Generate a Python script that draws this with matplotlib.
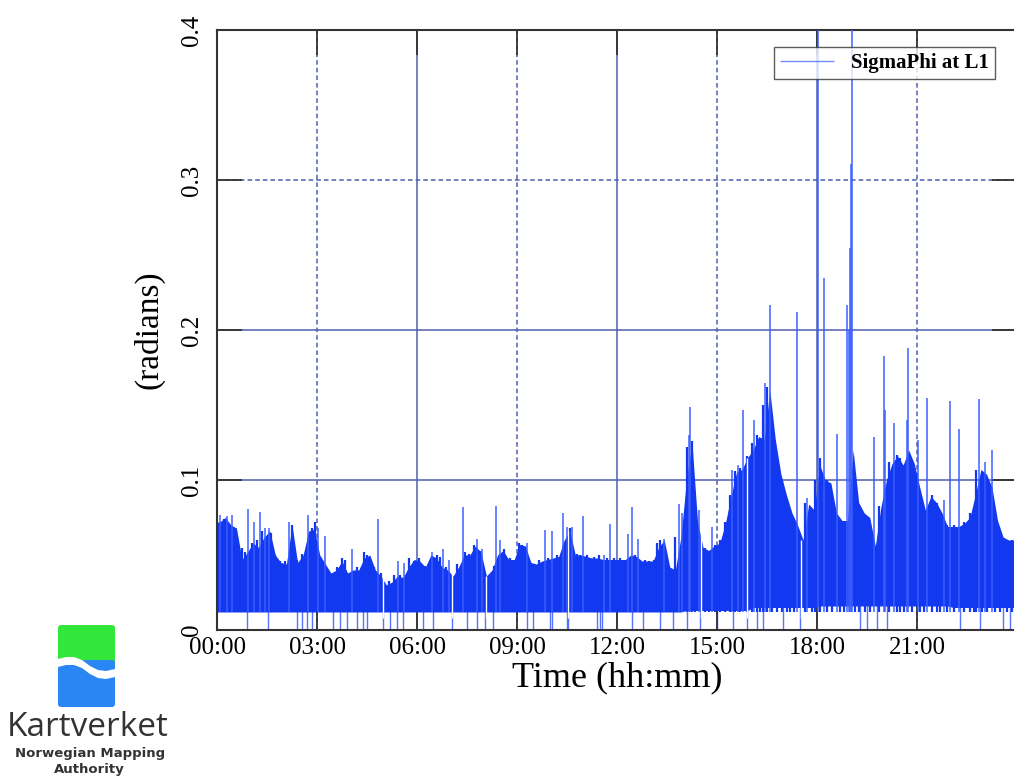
import numpy as np
import matplotlib.pyplot as plt
from matplotlib.patches import FancyBboxPatch, Polygon

# Data: SigmaPhi at L1 (radians) over one day ###################################
# dense part of the record, upper envelope in 10 minute bins (hour by hour)
dense_top = [
    0.072, 0.075, 0.070, 0.068, 0.047, 0.052,   # 00
    0.058, 0.055, 0.062, 0.066, 0.050, 0.045,   # 01
    0.044, 0.070, 0.045, 0.050, 0.066, 0.067,   # 02
    0.050, 0.044, 0.038, 0.040, 0.046, 0.038,   # 03
    0.040, 0.040, 0.048, 0.050, 0.040, 0.036,   # 04
    0.030, 0.032, 0.036, 0.035, 0.042, 0.047,   # 05
    0.046, 0.042, 0.050, 0.048, 0.042, 0.040,   # 06
    0.036, 0.042, 0.050, 0.050, 0.056, 0.052,   # 07
    0.036, 0.040, 0.050, 0.053, 0.047, 0.047,   # 08
    0.057, 0.056, 0.045, 0.044, 0.046, 0.047,   # 09
    0.048, 0.049, 0.060, 0.066, 0.050, 0.050,   # 10
    0.049, 0.048, 0.048, 0.047, 0.047, 0.047,   # 11
    0.047, 0.047, 0.050, 0.049, 0.046, 0.046,   # 12
    0.046, 0.055, 0.060, 0.042, 0.040, 0.062,   # 13
    0.100, 0.125, 0.072, 0.055, 0.053, 0.056,   # 14
    0.058, 0.071, 0.089, 0.105, 0.107, 0.115,   # 15
    0.120, 0.129, 0.127, 0.160, 0.127, 0.104,   # 16
    0.090, 0.078, 0.070, 0.060, 0.084, 0.080,   # 17
    0.110, 0.100, 0.098, 0.078, 0.073, 0.073,   # 18
    0.120, 0.085, 0.078, 0.075, 0.056, 0.082,   # 19
    0.100, 0.111, 0.116, 0.110, 0.120, 0.111,   # 20
    0.095, 0.080, 0.089, 0.085, 0.078, 0.069,   # 21
    0.069, 0.069, 0.071, 0.075, 0.090, 0.107,   # 22
    0.104, 0.095, 0.073, 0.062, 0.060, 0.060,   # 23
]
# noise floor, one value per hour
floor = [0.012, 0.012, 0.012, 0.012, 0.012, 0.012, 0.012, 0.012,
         0.012, 0.012, 0.012, 0.012, 0.012, 0.012, 0.013, 0.013,
         0.015, 0.015, 0.016, 0.016, 0.016, 0.016, 0.015, 0.015]

# isolated peaks (hours, radians)
spike_t = [0.10, 0.30, 0.45, 0.93, 1.10, 1.29, 1.45, 1.55, 2.15, 2.73,
           3.02, 3.25, 4.05, 4.84, 5.43, 5.60, 6.45, 6.78, 6.95, 7.38,
           7.80, 7.95, 8.37, 8.50, 9.30, 9.83, 10.05, 10.38, 10.50, 10.65,
           10.98, 11.60, 11.80, 12.33, 12.45, 12.62, 13.40, 13.85, 13.95, 14.15,
           14.20, 14.46, 14.85, 15.45, 15.62, 15.78, 16.12, 16.45, 16.58, 17.40,
           17.70, 18.03, 18.20, 18.60, 18.90, 18.97, 19.00, 19.03, 19.05, 19.70,
           20.00, 20.05, 20.30, 20.70, 20.73, 21.02, 21.30, 21.80, 22.00, 22.25,
           22.85, 23.05, 23.25]
spike_v = [0.077, 0.076, 0.077, 0.081, 0.072, 0.079, 0.068, 0.068, 0.072, 0.077,
           0.068, 0.063, 0.054, 0.074, 0.046, 0.045, 0.052, 0.054, 0.047, 0.082,
           0.061, 0.054, 0.083, 0.060, 0.058, 0.067, 0.066, 0.078, 0.069, 0.069,
           0.076, 0.050, 0.071, 0.064, 0.082, 0.061, 0.061, 0.084, 0.078, 0.130,
           0.149, 0.080, 0.069, 0.107, 0.110, 0.147, 0.140, 0.165, 0.217, 0.212,
           0.088, 0.450, 0.235, 0.131, 0.217, 0.200, 0.255, 0.311, 0.450, 0.129,
           0.183, 0.147, 0.138, 0.140, 0.188, 0.127, 0.155, 0.087, 0.153, 0.134,
           0.154, 0.112, 0.120]

# smaller peaks on top of the dense part
hair_t = [0.05, 0.20, 0.38, 0.60, 0.75, 0.85, 1.05, 1.20, 1.35, 1.62, 1.75, 1.90,
          2.05, 2.25, 2.40, 2.55, 2.85, 2.93, 3.10, 3.40, 3.60, 3.75, 3.85,
          4.20, 4.40, 4.50, 4.70, 4.92, 5.15, 5.30, 5.50, 5.75, 5.90,
          6.05, 6.25, 6.60, 6.70, 6.88, 7.20, 7.45, 7.55, 7.70, 7.88,
          8.15, 8.30, 8.60, 8.80, 8.95, 9.05, 9.15, 9.40, 9.65, 9.92,
          10.20, 10.60, 10.80, 10.90, 11.10, 11.30, 11.45, 11.70, 11.90,
          12.10, 12.20, 12.55, 12.85, 12.95, 13.10, 13.20, 13.30, 13.55, 13.75,
          14.10, 14.25, 14.35, 14.65, 14.75, 14.95, 15.10, 15.25, 15.40, 15.55,
          15.70, 15.90, 16.05, 16.20, 16.30, 16.38, 16.50, 16.65, 16.80, 16.95,
          17.10, 17.20, 17.30, 17.65, 17.85, 17.95, 18.10, 18.30, 18.45, 18.70,
          18.80, 19.15, 19.25, 19.45, 19.60, 19.85, 20.15, 20.40, 20.50, 20.60,
          20.85, 21.10, 21.20, 21.45, 21.60, 21.70, 21.90, 22.10, 22.40, 22.60,
          22.70, 22.78, 22.95, 23.10, 23.35, 23.50, 23.70, 23.85, 23.95]
hair_v = [0.068, 0.074, 0.070, 0.050, 0.055, 0.052, 0.058, 0.060, 0.066, 0.065, 0.050, 0.046,
          0.046, 0.070, 0.047, 0.051, 0.068, 0.072, 0.046, 0.037, 0.042, 0.048, 0.047,
          0.042, 0.052, 0.050, 0.042, 0.038, 0.033, 0.037, 0.037, 0.048, 0.046,
          0.048, 0.043, 0.050, 0.049, 0.042, 0.044, 0.052, 0.051, 0.057, 0.053,
          0.037, 0.043, 0.054, 0.048, 0.047, 0.058, 0.057, 0.046, 0.047, 0.048,
          0.050, 0.068, 0.051, 0.050, 0.050, 0.049, 0.050, 0.048, 0.048,
          0.048, 0.047, 0.050, 0.047, 0.046, 0.047, 0.058, 0.060, 0.041, 0.062,
          0.122, 0.126, 0.072, 0.055, 0.053, 0.057, 0.060, 0.072, 0.090, 0.106,
          0.108, 0.116, 0.125, 0.130, 0.128, 0.150, 0.162, 0.130, 0.110, 0.100,
          0.085, 0.078, 0.070, 0.085, 0.080, 0.100, 0.115, 0.100, 0.080, 0.074,
          0.073, 0.080, 0.078, 0.076, 0.058, 0.083, 0.112, 0.117, 0.115, 0.105,
          0.112, 0.082, 0.080, 0.090, 0.085, 0.079, 0.070, 0.070, 0.072, 0.078,
          0.080, 0.107, 0.105, 0.100, 0.074, 0.063, 0.060, 0.060, 0.060]

# samples that fall to zero
drop_t = [0.89, 1.53, 2.39, 2.54, 2.69, 2.85, 3.48, 3.69, 3.89, 4.19, 4.38, 4.49,
          4.98, 5.19, 5.39, 5.58, 6.18, 6.48, 7.04, 7.49, 7.79, 8.04, 8.28,
          9.29, 9.48, 9.99, 10.04, 10.49, 10.54, 11.39, 11.49, 11.54, 12.44,
          12.79, 13.29, 13.69, 14.09, 14.49, 14.99, 15.49, 15.89, 16.19, 16.39,
          16.99, 17.49, 19.29, 19.49, 19.79, 20.09, 22.29, 22.89, 23.59, 23.79]
# gaps that cut through the dense part
gap_t = [4.98, 7.04, 8.07, 10.53, 14.52, 15.90, 17.52]
gap_top = [0.036, 0.040, 0.036, 0.066, 0.070, 0.115, 0.060]

x_ticks = [0, 3, 6, 9, 12, 15, 18, 21]
x_labels = ["00:00", "03:00", "06:00", "09:00", "12:00", "15:00", "18:00", "21:00"]
y_ticks = [0, 0.1, 0.2, 0.3, 0.4]
y_labels = ["0", "0.1", "0.2", "0.3", "0.4"]

blue = '#1238f0'
light = '#3a5cff'
grid_c = '#4f5fb0'
serif = 'Liberation Serif'

###############################################################################
fig = plt.figure(figsize=(10.14, 7.78), dpi=100)
ax = fig.add_axes([217/1014, 1 - 630/778, 800/1014, 600/778])

# envelope points at bin centres, plus the two ends of the day
centres = (np.arange(len(dense_top)) + 0.5) / 6.0
t_env = np.concatenate([[0.0], centres, [24.0]])
top = np.concatenate([[dense_top[0]], dense_top, [dense_top[-1]]])
bot = np.repeat(floor, 6)
bot = np.concatenate([[bot[0]], bot, [bot[-1]]])

# grid, solid every 6 h / 0.2, dashed in between
for t in x_ticks[1:]:
    ls = '-' if t % 6 == 0 else (0, (3, 2))
    ax.axvline(t, color=grid_c, lw=1.1, ls=ls, zorder=0)
for v in y_ticks[1:-1]:
    ls = (0, (3, 2)) if v == 0.3 else '-'
    ax.axhline(v, color=grid_c, lw=1.1, ls=ls, zorder=0)

ax.vlines(drop_t, 0, 0.02, color=light, lw=1.0, alpha=0.85, zorder=1)
ax.fill_between(t_env, bot, top, color=blue, lw=0, zorder=2)
ax.vlines(hair_t, 0.012, hair_v, color=blue, lw=1.6, zorder=2.5)
ax.vlines(gap_t, 0.008, gap_top, color='white', lw=1.0, zorder=3)
ax.vlines(spike_t, 0.012, spike_v, color=light, lw=1.2, alpha=0.9, zorder=4,
          label='SigmaPhi at L1')

ax.set_xlim(0, 24)
ax.set_ylim(0, 0.4)
ax.set_xticks(x_ticks)
ax.set_xticklabels(x_labels, fontfamily=serif, fontsize=18)
ax.set_yticks(y_ticks)
ax.set_yticklabels(y_labels, fontfamily=serif, fontsize=18, rotation=90, va='center')
ax.tick_params(axis='both', direction='in', length=18, width=1.3, color='#333333',
               top=True, right=True)
ax.tick_params(axis='x', pad=5)
ax.tick_params(axis='y', pad=10)
for s in ax.spines.values():
    s.set_color('#333333')
    s.set_linewidth(1.5)

ax.set_xlabel('Time (hh:mm)', fontfamily=serif, fontsize=26, labelpad=2)
ax.set_ylabel('(radians)', fontfamily=serif, fontsize=24, labelpad=12)

leg = ax.legend(loc='upper right', bbox_to_anchor=(0.9725, 0.9717), fancybox=False,
                prop={'family': serif, 'size': 15, 'weight': 'bold'},
                handlelength=2.6, borderpad=0.3, borderaxespad=0)
leg.get_frame().set_edgecolor('#333333')
leg.get_frame().set_linewidth(1.0)
for h in leg.legend_handles:
    h.set_linewidth(1.0)
    h.set_alpha(0.7)

# Kartverket logo (pixel coordinates of the lower left corner) #################
lax = fig.add_axes([0, 0, 200/1014, 178/778])
lax.set_xlim(0, 200)
lax.set_ylim(778, 600)
lax.axis('off')
lax.add_patch(FancyBboxPatch((58, 625), 57, 42, boxstyle='round,pad=0,rounding_size=3',
                             fc='#33e63a', ec='none'))
lax.add_patch(FancyBboxPatch((58, 660), 57, 47, boxstyle='round,pad=0,rounding_size=3',
                             fc='#2a86f2', ec='none'))
wx = [58, 66, 74, 82, 90, 98, 106, 115]
wt = [659, 657, 657, 660, 666, 670, 671, 669]
wb = [667, 665, 665, 668, 674, 678, 679, 677]
lax.add_patch(Polygon(list(zip(wx, wt)) + list(zip(wx[::-1], wb[::-1])),
                      closed=True, fc='white', ec='none'))
lax.text(88, 727, 'Kartverket', ha='center', va='center', fontsize=24,
         family='Open Sans', color='#333333')
lax.text(90, 754, 'Norwegian Mapping', ha='center', va='center', fontsize=9.5,
         family='DejaVu Sans', weight='bold', color='#333333')
lax.text(89, 770, 'Authority', ha='center', va='center', fontsize=9.5,
         family='DejaVu Sans', weight='bold', color='#333333')

plt.savefig('out.png', dpi=100)
